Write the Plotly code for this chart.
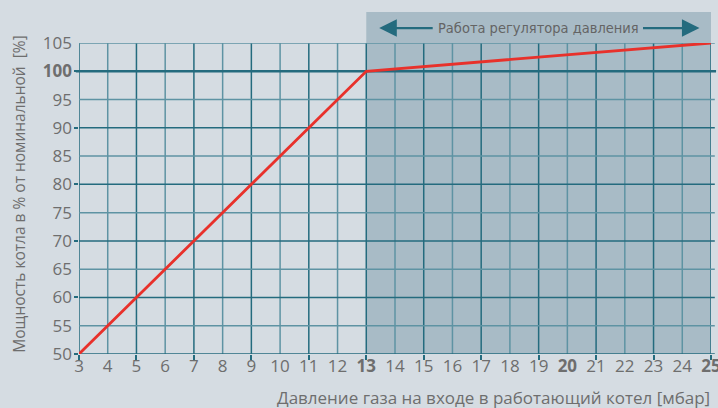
import plotly.graph_objects as go

# ---- data ----
pressure = [3, 13, 25]          # mbar
power = [50, 100, 105]          # %
x_ticks = list(range(3, 26))
y_ticks = list(range(50, 106, 5))
bold_x = [13, 20, 25]
bold_y = [100]
regulator_start, regulator_end = 13, 25
header_text = "Работа регулятора давления"
x_title = "Давление газа на входе в работающий котел [мбар]"
y_title = "Мощность котла в % от номинальной  [%]"

BG = "#d5dce2"
SHADE = "#a8bbc6"
DARK = "#246b7e"
LIGHT = "#5e93a3"
RED = "#e8312b"
TXT = "#6e6e6e"

x_text = [f"<b>{v}</b>" if v in bold_x else str(v) for v in x_ticks]
y_text = [f"<b>{v}</b>" if v in bold_y else str(v) for v in y_ticks]

fig = go.Figure()
fig.add_trace(go.Scatter(x=pressure, y=power, mode="lines",
                         line=dict(color=RED, width=2.8), hoverinfo="skip"))

shapes = []
shapes.append(dict(type="rect", xref="x", yref="paper", x0=regulator_start, x1=regulator_end,
                   y0=0, y1=1.1, fillcolor=SHADE, line=dict(width=0), layer="below"))
for v in x_ticks:
    c = DARK if v % 2 == 1 else LIGHT
    shapes.append(dict(type="line", xref="x", yref="paper", x0=v, x1=v, y0=0, y1=1,
                       line=dict(color=c, width=1.5), layer="below"))
for v in y_ticks:
    if v == 100:
        continue
    c = DARK if v % 10 == 0 else LIGHT
    shapes.append(dict(type="line", xref="paper", yref="y", x0=0, x1=1.006, y0=v, y1=v,
                       line=dict(color=c, width=1.5), layer="below"))
shapes.append(dict(type="line", xref="paper", yref="y", x0=-0.005, x1=1.008, y0=100, y1=100,
                   line=dict(color=DARK, width=2.6), layer="below"))

annotations = [
    dict(text=header_text, xref="x", yref="paper", x=19.0, y=1.048, showarrow=False,
         font=dict(family="DejaVu Sans Condensed, Liberation Sans Narrow, sans-serif", size=14.5, color="#646464"),
         xanchor="center", yanchor="middle"),
    dict(text=y_title, xref="paper", yref="paper", x=-0.095, y=0.515, textangle=-90,
         showarrow=False, font=dict(family="Open Sans", size=15.5, color=TXT),
         xanchor="center", yanchor="middle"),
    dict(text=x_title, xref="paper", yref="paper", x=1.002, y=-0.14, showarrow=False,
         font=dict(family="Open Sans", size=17, color=TXT), xanchor="right", yanchor="middle"),
    dict(text="", xref="x", yref="paper", x=13.45, y=1.048, ax=55, ay=0,
         axref="pixel", ayref="pixel", showarrow=True, arrowhead=2, arrowsize=1.6,
         arrowwidth=2.2, arrowcolor=DARK),
    dict(text="", xref="x", yref="paper", x=24.6, y=1.048, ax=-58, ay=0,
         axref="pixel", ayref="pixel", showarrow=True, arrowhead=2, arrowsize=1.6,
         arrowwidth=2.2, arrowcolor=DARK),
]

fig.update_layout(
    width=718, height=408,
    margin=dict(l=79, r=7, t=43, b=54, autoexpand=False),
    paper_bgcolor=BG, plot_bgcolor=BG,
    showlegend=False,
    shapes=shapes, annotations=annotations,
    font=dict(family="Open Sans", color=TXT),
    xaxis=dict(range=[3, 25], tickvals=x_ticks, ticktext=x_text, showgrid=False,
               zeroline=False, showline=False, ticks="", ticklen=0, automargin=False,
               ticklabeloverflow="allow",
               tickfont=dict(size=17, color=TXT),
               minor=dict(tickvals=[v for v in x_ticks if v % 2 == 1], ticks="outside",
                          ticklen=5, tickwidth=1.5, tickcolor=DARK, showgrid=False)),
    yaxis=dict(range=[50, 105], tickvals=y_ticks, ticktext=y_text, showgrid=False,
               zeroline=False, showline=False, ticks="", ticklabelstandoff=6, automargin=False,
               tickfont=dict(size=17, color=TXT),
               minor=dict(tickvals=[v for v in y_ticks if v % 10 == 0], ticks="outside",
                          ticklen=4, tickwidth=1.5, tickcolor=DARK, showgrid=False)),
)

fig.write_html("out.html", config={"displayModeBar": False},
               post_script="document.body.style.margin='0';document.body.style.background='%s';" % BG)
